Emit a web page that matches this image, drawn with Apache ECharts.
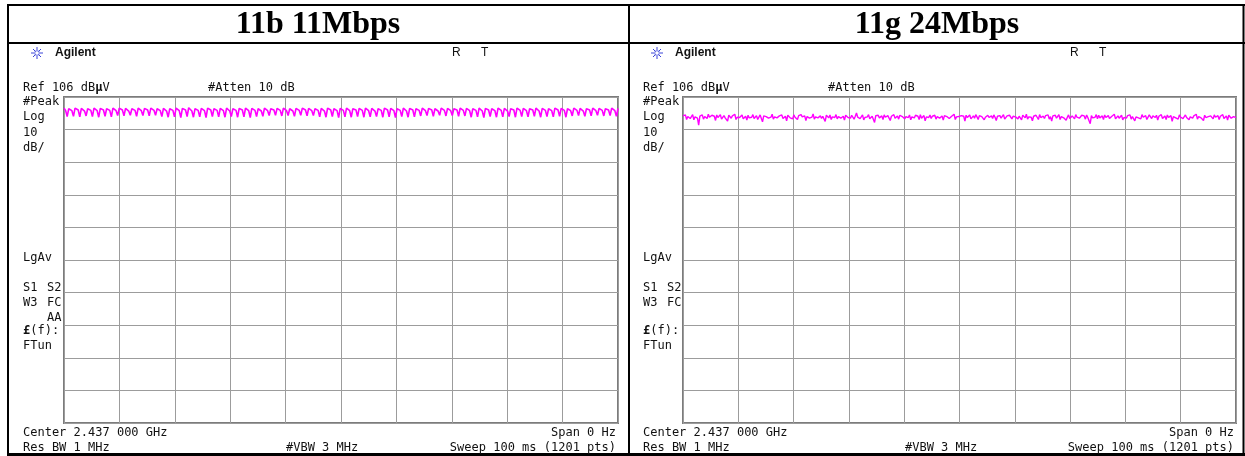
<!DOCTYPE html>
<html>
<head>
<meta charset="utf-8">
<title>11b / 11g</title>
<script src="https://cdn.jsdelivr.net/npm/echarts@6/dist/echarts.min.js"></script>
<style>
    body { margin: 0; background: #fff; }
    #chart { width: 1245px; height: 456px; }
</style>
</head>
<body>
<div id="chart"></div>
<script>
// ref level and scale of both screens
var refLevel = 106;           // dBuV
var sweepMs = 100;            // zero span sweep time
var yTicks = [-100, 0, 10];   // min, max, step (dB relative to ref)
var panelTitles = ['11b 11Mbps', '11g 24Mbps'];

// 11b trace, dB relative to ref (top band with short dips)
var trace11b = [
    -3.4,-4.1,-6.0,-3.6, -3.5,-4.2,-5.9,-3.4, -3.6,-4.0,-6.1,-3.5, -3.4,-4.3,-5.8,-3.6, -3.5,-4.1,-6.0,-3.4, -3.6,-4.2,-6.2,-3.5, -3.4,-4.0,-5.9,-3.6, -3.5,-4.1,-6.1,-3.4,
    -3.5,-4.2,-5.7,-3.4, -3.6,-4.0,-5.8,-3.5, -3.4,-4.3,-5.6,-3.6, -3.5,-4.1,-5.9,-3.4, -3.3,-4.2,-5.7,-3.5, -3.6,-4.0,-5.8,-3.4, -3.5,-4.1,-5.6,-3.6, -3.4,-4.2,-6.0,-3.5,
    -3.3,-4.3,-6.2,-3.6, -3.5,-4.1,-6.1,-3.4, -3.6,-4.2,-6.3,-3.5, -3.4,-4.0,-6.0,-3.3, -3.5,-4.3,-6.2,-3.6, -3.4,-4.1,-6.1,-3.5, -3.6,-4.2,-6.3,-3.4, -3.5,-4.0,-6.0,-3.6,
    -3.4,-4.1,-6.1,-3.5, -3.6,-4.2,-6.2,-3.4, -3.5,-4.3,-6.0,-3.6, -3.3,-4.1,-6.2,-3.5, -3.4,-4.0,-6.1,-3.4, -3.6,-4.2,-6.3,-3.5, -3.5,-4.1,-6.0,-3.6, -3.4,-4.3,-5.9,-3.4,
    -3.5,-4.2,-5.7,-3.6, -3.4,-4.0,-5.6,-3.5, -3.6,-4.1,-5.8,-3.4, -3.5,-4.2,-5.7,-3.6, -3.3,-4.3,-5.9,-3.5, -3.4,-4.1,-5.6,-3.4, -3.6,-4.0,-5.8,-3.5, -3.5,-4.2,-5.7,-3.6,
    -3.4,-4.1,-6.1,-3.5, -3.6,-4.3,-6.2,-3.4, -3.5,-4.0,-6.0,-3.6, -3.4,-4.2,-6.3,-3.5, -3.6,-4.1,-6.1,-3.4, -3.5,-4.2,-6.2,-3.6, -3.3,-4.0,-6.0,-3.5, -3.4,-4.1,-6.2,-3.4,
    -3.6,-4.2,-6.1,-3.5, -3.4,-4.3,-6.0,-3.6, -3.5,-4.1,-6.2,-3.4, -3.6,-4.0,-6.1,-3.5, -3.4,-4.2,-6.3,-3.6, -3.5,-4.1,-6.0,-3.4, -3.6,-4.3,-6.2,-3.5, -3.4,-4.0,-6.1,-3.6,
    -3.5,-4.1,-5.8,-3.4, -3.6,-4.2,-5.7,-3.5, -3.4,-4.0,-5.9,-3.6, -3.5,-4.3,-5.6,-3.4, -3.6,-4.1,-5.8,-3.5, -3.4,-4.2,-5.7,-3.6, -3.5,-4.0,-5.9,-3.4, -3.6,-4.1,-5.8,-3.5,
    -3.4,-4.2,-6.2,-3.6, -3.5,-4.1,-6.1,-3.4, -3.6,-4.3,-6.3,-3.5, -3.4,-4.0,-6.0,-3.6, -3.5,-4.2,-6.2,-3.4, -3.6,-4.1,-6.1,-3.5, -3.4,-4.3,-6.0,-3.6, -3.5,-4.0,-6.2,-3.4,
    -3.6,-4.1,-6.0,-3.5, -3.4,-4.2,-6.1,-3.6, -3.5,-4.0,-5.9,-3.4, -3.6,-4.3,-6.2,-3.5, -3.4,-4.1,-6.0,-3.6, -3.5,-4.2,-6.1,-3.4, -3.6,-4.0,-5.9,-3.5, -3.4,-4.1,-6.2,-3.6,
    -3.5,-4.2,-5.8,-3.4, -3.6,-4.1,-5.7,-3.5, -3.4,-4.3,-5.9,-3.6, -3.5,-4.0,-5.8,-3.4, -3.6,-4.2,-5.6,-3.5, -3.4,-4.1,-5.8,-3.6, -3.5,-4.0,-5.7,-3.4, -3.6,-4.2,-5.9,-3.5
];

// 11g trace, dB relative to ref (noisy flat line)
var trace11g = [
    -5.8,-6.4,-5.5,-6.9,-6.0,-5.6,-6.6,-6.2,-5.4,-7.0,-6.1,-5.7,-6.5,-8.6,-5.9,-6.3,-5.5,-6.8,-6.0,-5.8,-6.6,-5.3,-6.2,
    -6.7,-5.6,-6.1,-5.9,-7.2,-5.5,-6.3,-6.0,-5.4,-6.8,-6.2,-5.7,-6.4,-5.9,-7.4,-5.6,-6.1,-6.5,-5.8,-6.0,-5.3,-6.9,-6.2,
    -5.7,-6.3,-6.0,-5.5,-6.7,-6.1,-5.9,-7.1,-5.6,-6.4,-5.8,-6.2,-5.4,-6.6,-6.0,-5.7,-6.9,-6.3,-5.5,-6.1,-7.6,-5.8,-6.4,
    -6.0,-5.6,-6.5,-5.9,-6.2,-5.3,-6.8,-6.1,-5.7,-6.4,-7.0,-5.8,-6.0,-5.5,-6.6,-6.2,-5.9,-7.3,-5.6,-6.1,-6.4,-5.8,-6.7,
    -5.5,-6.2,-6.0,-6.9,-5.7,-6.3,-5.4,-6.1,-6.6,-5.8,-7.2,-6.0,-5.6,-6.5,-5.9,-6.2,-5.2,-6.8,-6.1,-5.7,-6.4,-6.0,-5.8,
    -6.6,-5.9,-6.2,-7.5,-5.6,-6.0,-6.4,-5.5,-6.9,-6.1,-5.8,-6.3,-5.4,-6.7,-6.0,-5.7,-6.5,-6.2,-5.9,-7.1,-5.6,-6.1,-6.3,
    -5.8,-6.5,-5.6,-6.1,-6.8,-5.9,-4.9,-6.2,-5.7,-6.6,-6.0,-5.5,-7.0,-6.3,-5.8,-6.1,-5.4,-6.7,-6.2,-5.9,-6.4,-7.8,-5.7,
    -6.1,-5.6,-6.4,-6.0,-5.8,-6.9,-5.5,-6.2,-6.6,-5.7,-6.3,-7.2,-5.9,-6.0,-5.4,-6.5,-6.1,-5.8,-6.8,-5.6,-6.2,-6.0,-5.5,
    -6.7,-6.0,-5.7,-6.3,-5.5,-7.0,-6.1,-5.8,-6.4,-5.6,-6.2,-5.9,-6.9,-5.4,-6.5,-6.0,-5.7,-7.3,-6.1,-5.8,-6.3,-5.5,-6.6,
    -5.9,-6.2,-5.6,-6.8,-6.0,-5.4,-6.5,-6.1,-5.8,-7.1,-5.7,-6.3,-6.0,-5.5,-6.6,-6.2,-5.9,-6.4,-5.3,-6.9,-6.1,-5.8,-6.0,
    -6.4,-5.7,-6.1,-5.9,-7.4,-5.6,-6.3,-6.0,-5.5,-6.7,-6.2,-5.8,-6.5,-5.4,-6.1,-6.9,-5.7,-6.3,-6.0,-5.6,-7.0,-6.2,-5.9,
    -5.6,-6.3,-6.0,-5.8,-6.6,-5.5,-6.2,-7.2,-5.9,-6.1,-5.7,-6.5,-6.0,-5.4,-6.8,-6.2,-5.8,-6.4,-5.6,-6.1,-6.7,-5.9,-6.2,
    -6.1,-5.5,-6.7,-5.9,-6.3,-7.0,-5.6,-6.0,-6.4,-5.3,-6.8,-6.1,-5.7,-6.2,-7.3,-5.9,-6.5,-5.6,-6.0,-6.9,-5.4,-6.3,-6.1,
    -5.9,-6.6,-5.7,-6.2,-5.5,-6.8,-6.0,-7.4,-5.8,-6.3,-5.6,-6.5,-6.1,-5.4,-6.9,-6.0,-5.7,-6.4,-5.9,-7.1,-6.2,-5.5,-6.6,
    -6.3,-5.8,-6.0,-6.7,-5.4,-6.2,-5.9,-6.5,-7.0,-5.6,-6.1,-5.8,-6.8,-5.5,-6.3,-6.0,-8.2,-5.7,-6.4,-5.9,-6.2,-5.4,-6.7,
    -5.6,-6.4,-6.1,-5.8,-6.9,-5.5,-6.3,-6.0,-5.7,-6.6,-7.2,-5.9,-6.2,-5.3,-6.7,-6.1,-5.8,-6.5,-6.0,-5.6,-7.0,-6.3,-5.9,
    -6.5,-5.7,-6.2,-5.5,-6.8,-6.0,-5.8,-7.3,-6.1,-5.6,-6.4,-5.9,-6.7,-5.4,-6.2,-6.0,-5.7,-6.9,-6.3,-5.5,-6.1,-6.6,-5.8,
    -6.0,-6.3,-5.6,-7.1,-5.9,-6.2,-5.4,-6.6,-6.0,-5.8,-6.9,-5.5,-6.3,-6.1,-5.7,-7.5,-6.0,-5.6,-6.4,-5.9,-6.8,-5.5,-6.2,
    -5.7,-6.6,-6.0,-5.5,-6.3,-5.9,-7.0,-6.1,-5.6,-6.5,-5.8,-6.2,-5.3,-6.8,-6.0,-5.7,-6.4,-6.1,-7.2,-5.6,-6.3,-5.9,-6.0,
    -6.4,-5.8,-6.1,-6.7,-5.5,-6.2,-6.0,-5.7,-6.9,-5.9,-6.3,-5.4,-6.6,-6.1,-5.8,-7.1,-5.6,-6.2,-6.5,-5.9,-6.0,-5.7,-6.3
];

// annotation texts of the analyzer screen
var sideLabels = ['#Peak', 'Log', '10', 'dB/'];
var statusLeft = [['LgAv', ''], ['S1', 'S2'], ['W3', 'FC'], ['', 'AA'], ['{b|£}(f):', ''], ['FTun', '']];
var statusRight = [['LgAv', ''], ['S1', 'S2'], ['W3', 'FC'], ['', ''], ['{b|£}(f):', ''], ['FTun', '']];
var footer = ['Center 2.437 000 GHz', 'Span 0 Hz', 'Res BW 1 MHz', '#VBW 3 MHz', 'Sweep 100 ms (1201 pts)'];

var MONO = '12px "DejaVu Sans Mono"';
var TRACE = '#ff00ff';

function toPoints(arr) {
    var out = [];
    for (var i = 0; i < arr.length; i++) {
        out.push([i * sweepMs / (arr.length - 1), arr[i]]);
    }
    return out;
}

function txt(s, x, y, opts) {
    opts = opts || {};
    return {
        type: 'text', silent: true,
        style: {
            text: s, x: x, y: y,
            font: opts.font || MONO,
            fill: opts.fill || '#111',
            align: opts.align || 'left',
            verticalAlign: 'middle',
            rich: {
                b: { font: 'bold 12px "DejaVu Sans Mono"', fill: '#111' }
            }
        }
    };
}

function hline(x1, x2, y, w) {
    return { type: 'line', silent: true, shape: { x1: x1, y1: y, x2: x2, y2: y }, style: { stroke: '#000', lineWidth: w } };
}
function vline(x, y1, y2, w) {
    return { type: 'line', silent: true, shape: { x1: x, y1: y1, x2: x, y2: y2 }, style: { stroke: '#000', lineWidth: w } };
}

// agilent spark logo
function spark(cx, cy) {
    var g = [];
    var rays = [[0, -6], [4, -4], [6, 0], [4, 4], [0, 6], [-4, 4], [-6, 0], [-4, -4], [2, -5], [5, -2], [5, 2], [2, 5], [-2, 5], [-5, 2], [-5, -2], [-2, -5]];
    for (var i = 0; i < rays.length; i++) {
        var k = i < 8 ? 1 : 0.6;
        g.push({
            type: 'line', silent: true,
            shape: { x1: cx + rays[i][0] * 0.3, y1: cy + rays[i][1] * 0.3, x2: cx + rays[i][0] * k, y2: cy + rays[i][1] * k },
            style: { stroke: i < 8 ? '#3b45d8' : '#9aa0f0', lineWidth: 1 }
        });
    }
    return g;
}

// one analyzer screen, x0 = left of text column
function screen(x0, gridRight, status, vbwX, rX) {
    var g = [];
    g = g.concat(spark(x0 + 14, 53));
    g.push(txt('Agilent', x0 + 32, 53, { font: 'bold 12px "Liberation Sans"' }));
    g.push(txt('R', rX, 53, { font: '12px "Liberation Sans"' }));
    g.push(txt('T', rX + 29, 53, { font: '12px "Liberation Sans"' }));
    g.push(txt('Ref 106 dB{b|µ}V', x0, 88));
    g.push(txt('#Atten 10 dB', x0 + 185, 88));
    for (var i = 0; i < sideLabels.length; i++) {
        g.push(txt(sideLabels[i], x0, 102 + i * 15.3));
    }
    var sy = [258, 288, 303, 318, 331, 346];
    for (var j = 0; j < status.length; j++) {
        if (status[j][0]) g.push(txt(status[j][0], x0, sy[j]));
        if (status[j][1]) g.push(txt(status[j][1], x0 + 24, sy[j]));
    }
    g.push(txt(footer[0], x0, 433));
    g.push(txt(footer[1], gridRight - 2, 433, { align: 'right' }));
    g.push(txt(footer[2], x0, 448));
    g.push(txt(footer[3], vbwX, 448));
    g.push(txt(footer[4], gridRight - 2, 448, { align: 'right' }));
    return g;
}

var chart = echarts.init(document.getElementById('chart'));

var grids = [
    { left: 64, top: 97, width: 554, height: 326 },
    { left: 683, top: 97, width: 553, height: 326 }
];

var xAxes = [], yAxes = [];
for (var k = 0; k < 2; k++) {
    grids[k].show = true;
    grids[k].borderColor = '#7c7c7c';
    grids[k].borderWidth = 2;
    xAxes.push({
        type: 'value', gridIndex: k, min: 0, max: sweepMs, interval: sweepMs / 10,
        axisLine: { show: false }, axisTick: { show: false }, axisLabel: { show: false },
        splitLine: { show: true, lineStyle: { color: '#9c9c9c', width: 1 } }
    });
    yAxes.push({
        type: 'value', gridIndex: k, min: yTicks[0], max: yTicks[1], interval: yTicks[2],
        axisLine: { show: false }, axisTick: { show: false }, axisLabel: { show: false },
        splitLine: { show: true, lineStyle: { color: '#9c9c9c', width: 1 } }
    });
}

var graphics = [];
// table frame
graphics.push(hline(7, 1245, 5, 2));
graphics.push(hline(7, 1245, 43, 2));
graphics.push(hline(7, 1245, 454.5, 3));
graphics.push(vline(8, 4, 456, 2));
graphics.push(vline(629, 4, 456, 2));
graphics.push(vline(1243.5, 4, 456, 2));
// titles
graphics.push(txt(panelTitles[0], 318, 25, { font: 'bold 32px "Liberation Serif"', align: 'center', fill: '#000' }));
graphics.push(txt(panelTitles[1], 937, 25, { font: 'bold 32px "Liberation Serif"', align: 'center', fill: '#000' }));
graphics = graphics.concat(screen(23, 618, statusLeft, 286, 452));
graphics = graphics.concat(screen(643, 1236, statusRight, 905, 1070));

var option = {
    animation: false,
    backgroundColor: '#fff',
    grid: grids,
    xAxis: xAxes,
    yAxis: yAxes,
    series: [
        {
            name: panelTitles[0], type: 'line', xAxisIndex: 0, yAxisIndex: 0,
            data: toPoints(trace11b), showSymbol: false, silent: true,
            lineStyle: { color: TRACE, width: 1.6 }
        },
        {
            name: panelTitles[1], type: 'line', xAxisIndex: 1, yAxisIndex: 1,
            data: toPoints(trace11g), showSymbol: false, silent: true,
            lineStyle: { color: TRACE, width: 1.4 }
        }
    ],
    graphic: graphics
};

chart.setOption(option);
</script>
</body>
</html>
